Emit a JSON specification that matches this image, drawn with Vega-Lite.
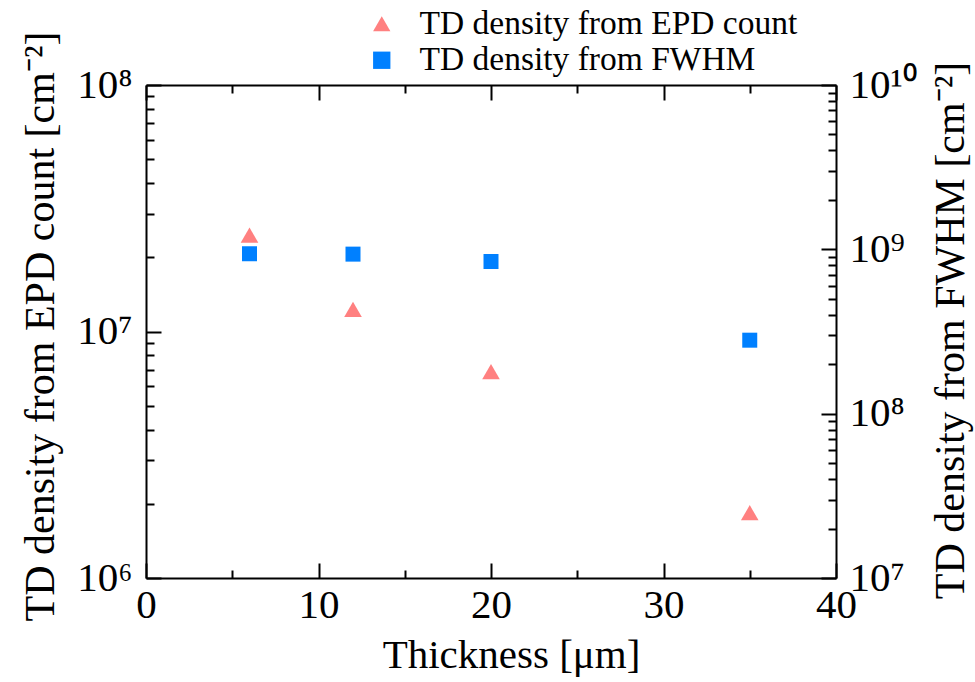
{
  "$schema": "https://vega.github.io/schema/vega-lite/v6.json",
  "width": 690,
  "height": 493,
  "autosize": "none",
  "padding": {"left": 146, "top": 85, "right": 139, "bottom": 104},
  "background": "white",
  "config": {
    "view": {"stroke": null},
    "font": "Liberation Serif",
    "axis": {
      "domainColor": "black",
      "domainWidth": 2,
      "tickColor": "black",
      "tickWidth": 2,
      "labelColor": "black",
      "titleColor": "black",
      "labelFont": "Liberation Serif",
      "titleFont": "Liberation Serif",
      "labelFontSize": 41,
      "titleFontSize": 42,
      "titleFontWeight": "normal",
      "grid": false,
      "labelOverlap": false,
      "labelFlush": false,
      "labelBound": false
    }
  },
  "datasets": {
    "epd": [
      {"thickness": 6, "density": 24600000, "series": "TD density from EPD count"},
      {"thickness": 12, "density": 12300000, "series": "TD density from EPD count"},
      {"thickness": 20, "density": 6870000, "series": "TD density from EPD count"},
      {"thickness": 35, "density": 1840000, "series": "TD density from EPD count"}
    ],
    "fwhm": [
      {"thickness": 6, "density": 940000000, "series": "TD density from FWHM"},
      {"thickness": 12, "density": 935000000, "series": "TD density from FWHM"},
      {"thickness": 20, "density": 843000000, "series": "TD density from FWHM"},
      {"thickness": 35, "density": 280000000, "series": "TD density from FWHM"}
    ]
  },
  "layer": [
    {
      "data": {"name": "epd"},
      "mark": {"type": "point", "opacity": 0},
      "encoding": {
        "x": {
          "field": "thickness",
          "type": "quantitative",
          "scale": {"domain": [0, 40], "nice": false},
          "axis": {"orient": "bottom", "values": [5, 15, 25, 35], "labels": false, "domain": false, "tickSize": -8, "title": null}
        },
        "y": {
          "field": "density",
          "type": "quantitative",
          "scale": {"type": "log", "domain": [1000000, 100000000], "nice": false},
          "axis": {"orient": "left", "values": [2000000, 3000000, 4000000, 5000000, 6000000, 7000000, 8000000, 9000000, 20000000, 30000000, 40000000, 50000000, 60000000, 70000000, 80000000, 90000000], "labels": false, "domain": false, "tickSize": -8, "title": null}
        }
      }
    },
    {
      "data": {"name": "fwhm"},
      "mark": {"type": "point", "opacity": 0},
      "encoding": {
        "x": {
          "field": "thickness",
          "type": "quantitative",
          "scale": {"domain": [0, 40], "nice": false},
          "axis": {"orient": "top", "values": [5, 15, 25, 35], "labels": false, "domain": false, "tickSize": -8, "title": null}
        },
        "y": {
          "field": "density",
          "type": "quantitative",
          "scale": {"type": "log", "domain": [10000000, 10000000000], "nice": false},
          "axis": {"orient": "right", "values": [20000000, 30000000, 40000000, 50000000, 60000000, 70000000, 80000000, 90000000, 200000000, 300000000, 400000000, 500000000, 600000000, 700000000, 800000000, 900000000, 2000000000, 3000000000, 4000000000, 5000000000, 6000000000, 7000000000, 8000000000, 9000000000], "labels": false, "domain": false, "tickSize": -8, "title": null}
        }
      }
    },
    {
      "data": {"name": "epd"},
      "mark": {"type": "point", "filled": true, "opacity": 1, "size": 310},
      "encoding": {
        "x": {
          "field": "thickness",
          "type": "quantitative",
          "scale": {"domain": [0, 40], "nice": false},
          "axis": {
            "orient": "bottom",
            "values": [0, 10, 20, 30, 40],
            "tickSize": -15,
            "labelPadding": 22,
            "labelBaseline": "top",
            "title": "Thickness [μm]",
            "titleFontSize": 41,
            "titleX": 365,
            "titleY": 77,
            "titleBaseline": "middle"
          }
        },
        "y": {
          "field": "density",
          "type": "quantitative",
          "scale": {"type": "log", "domain": [1000000, 100000000], "nice": false},
          "axis": {
            "orient": "left",
            "values": [1000000, 10000000, 100000000],
            "labelExpr": "datum.value == 1000000 ? '10⁶' : datum.value == 10000000 ? '10⁷' : '10⁸'",
            "tickSize": -15,
            "labelPadding": 29,
            "labelBaseline": "middle",
            "title": "TD density from EPD count [cm⁻²]",
            "titleX": -106,
            "titleY": 241,
            "titleBaseline": "middle",
            "titleAngle": -90
          }
        },
        "color": {
          "field": "series",
          "type": "nominal",
          "scale": {"domain": ["TD density from EPD count", "TD density from FWHM"], "range": ["#FF8080", "#0080FF"]},
          "legend": {"orient": "none", "legendX": 219, "legendY": -78, "title": null, "labelFontSize": 33.5, "labelFont": "Liberation Serif", "labelColor": "black", "symbolSize": 300, "labelOffset": 21, "rowPadding": 1.5, "padding": 0, "labelLimit": 600}
        },
        "shape": {
          "field": "series",
          "type": "nominal",
          "scale": {"domain": ["TD density from EPD count", "TD density from FWHM"], "range": ["triangle-up", "square"]},
          "legend": {"orient": "none", "legendX": 219, "legendY": -78, "title": null, "labelFontSize": 33.5, "labelFont": "Liberation Serif", "labelColor": "black", "symbolSize": 300, "labelOffset": 21, "rowPadding": 1.5, "padding": 0, "labelLimit": 600}
        }
      }
    },
    {
      "data": {"name": "fwhm"},
      "mark": {"type": "point", "filled": true, "opacity": 1, "size": 225},
      "encoding": {
        "x": {
          "field": "thickness",
          "type": "quantitative",
          "scale": {"domain": [0, 40], "nice": false},
          "axis": {"orient": "top", "values": [0, 10, 20, 30, 40], "labels": false, "tickSize": -15, "title": null}
        },
        "y": {
          "field": "density",
          "type": "quantitative",
          "scale": {"type": "log", "domain": [10000000, 10000000000], "nice": false},
          "axis": {
            "orient": "right",
            "values": [10000000, 100000000, 1000000000, 10000000000],
            "labelExpr": "datum.value == 10000000 ? '10⁷' : datum.value == 100000000 ? '10⁸' : datum.value == 1000000000 ? '10⁹' : '10¹⁰'",
            "tickSize": -15,
            "labelPadding": 28,
            "labelBaseline": "middle",
            "title": "TD density from FWHM [cm⁻²]",
            "titleX": 114,
            "titleY": 245,
            "titleBaseline": "middle",
            "titleAngle": -90
          }
        },
        "color": {
          "field": "series",
          "type": "nominal",
          "scale": {"domain": ["TD density from EPD count", "TD density from FWHM"], "range": ["#FF8080", "#0080FF"]},
          "legend": {"orient": "none", "legendX": 219, "legendY": -78, "title": null, "labelFontSize": 33.5, "labelFont": "Liberation Serif", "labelColor": "black", "symbolSize": 300, "labelOffset": 21, "rowPadding": 1.5, "padding": 0, "labelLimit": 600}
        },
        "shape": {
          "field": "series",
          "type": "nominal",
          "scale": {"domain": ["TD density from EPD count", "TD density from FWHM"], "range": ["triangle-up", "square"]},
          "legend": {"orient": "none", "legendX": 219, "legendY": -78, "title": null, "labelFontSize": 33.5, "labelFont": "Liberation Serif", "labelColor": "black", "symbolSize": 300, "labelOffset": 21, "rowPadding": 1.5, "padding": 0, "labelLimit": 600}
        }
      }
    }
  ],
  "resolve": {"scale": {"y": "independent"}, "axis": {"x": "independent", "y": "independent"}}
}
